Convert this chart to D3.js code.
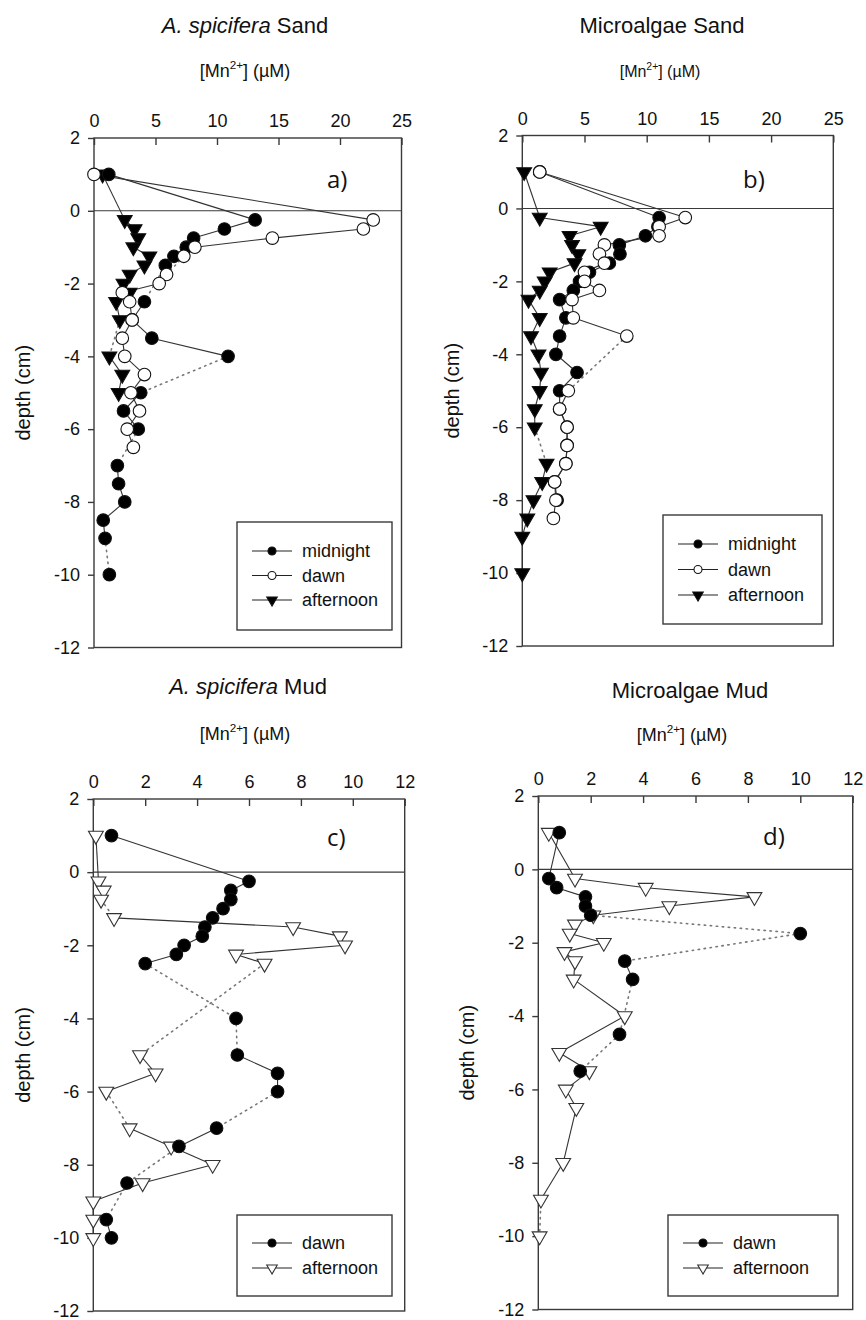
<!DOCTYPE html>
<html><head><meta charset="utf-8">
<script src="https://cdn.jsdelivr.net/npm/d3@7"></script>
<style>body{margin:0;background:#fff}svg{display:block}</style>
</head><body>
<svg id="c" width="866" height="1320"></svg>
<script>
// ---------- tick labels ----------
const depthTicks = [2, 0, -2, -4, -6, -8, -10, -12];
const sandTicks = [0, 5, 10, 15, 20, 25];
const mudTicks = [0, 2, 4, 6, 8, 10, 12];

// ---------- a) A. spicifera Sand ----------
const aMidnightDepth = [1, -0.25, -0.5, -0.75, -1, -1.25, -1.5, -2.5, -3, -3.5, -4, -5, -5.5, -6, -7, -7.5, -8, -8.5, -9, -10];
const aMidnightMn    = [1.2, 13.1, 10.6, 8.1, 7.5, 6.5, 5.8, 4.1, 3.1, 4.7, 10.9, 3.8, 2.4, 3.6, 1.9, 2.0, 2.5, 0.75, 0.9, 1.25];
const aMidnightGaps  = [-1.5, -4, -6, -9];
const aDawnDepth = [1, -0.25, -0.5, -0.75, -1, -1.25, -1.75, -2, -2.25, -2.5, -3, -3.5, -4, -4.5, -5, -5.5, -6, -6.5];
const aDawnMn    = [0, 22.7, 21.9, 14.5, 8.2, 7.3, 5.9, 5.3, 2.3, 2.9, 3.1, 2.3, 2.5, 4.1, 3.0, 3.7, 2.7, 3.2];
const aDawnGaps  = [-1.25];
const aAfternoonDepth = [1, -0.25, -0.5, -0.75, -1, -1.25, -1.5, -1.75, -2, -2.25, -2.5, -3, -4, -4.5, -5];
const aAfternoonMn    = [0.7, 2.5, 3.3, 3.6, 3.2, 4.5, 4.1, 2.9, 2.4, 2.9, 1.8, 2.1, 1.25, 2.3, 2.0];
const aAfternoonGaps  = [-3];

// ---------- b) Microalgae Sand ----------
const bMidnightDepth = [1, -0.25, -0.5, -0.75, -1, -1.25, -1.5, -1.75, -2, -2.25, -2.5, -3, -3.5, -4, -4.5, -5, -5.5, -6, -6.5, -7, -7.5, -8];
const bMidnightMn    = [1.4, 11.0, 10.9, 9.9, 7.8, 7.85, 7.0, 5.4, 4.6, 4.1, 3.0, 3.5, 3.0, 2.7, 4.4, 3.0, 3.0, 3.6, 3.6, 3.5, 2.6, 2.8];
const bMidnightGaps  = [];
const bDawnDepth = [1, -0.25, -0.5, -0.75, -1, -1.25, -1.5, -1.75, -2, -2.25, -2.5, -3, -3.5, -5, -5.5, -6, -6.5, -7, -7.5, -8, -8.5];
const bDawnMn    = [1.4, 13.1, 11.0, 11.0, 6.6, 6.2, 6.6, 5.0, 5.0, 6.2, 4.0, 4.1, 8.4, 3.7, 3.0, 3.6, 3.6, 3.5, 2.6, 2.7, 2.5];
const bDawnGaps  = [-3.5];
const bAfternoonDepth = [1, -0.25, -0.5, -0.75, -1, -1.25, -1.5, -1.75, -2, -2.25, -2.5, -3, -3.5, -4, -4.5, -5, -5.5, -6, -7, -7.5, -8, -8.5, -9, -10];
const bAfternoonMn    = [0.15, 1.4, 6.3, 3.8, 4.0, 4.5, 4.2, 2.2, 1.8, 1.4, 0.5, 1.4, 0.7, 1.3, 1.5, 1.4, 1.0, 1.0, 1.95, 1.6, 0.9, 0.4, 0.0, 0.0];
const bAfternoonGaps  = [-6];

// ---------- c) A. spicifera Mud ----------
const cDawnDepth = [1, -0.25, -0.5, -0.75, -1, -1.25, -1.5, -1.75, -2, -2.25, -2.5, -4, -5, -5.5, -6, -7, -7.5, -8.5, -9.5, -10];
const cDawnMn    = [0.7, 6.0, 5.3, 5.3, 5.0, 4.6, 4.3, 4.2, 3.5, 3.2, 2.0, 5.5, 5.55, 7.1, 7.1, 4.75, 3.3, 1.3, 0.5, 0.7];
const cDawnGaps  = [-2.5, -4, -6, -7.5, -8.5];
const cAfternoonDepth = [1, -0.25, -0.5, -0.75, -1.25, -1.5, -1.75, -2, -2.25, -2.5, -5, -5.5, -6, -7, -7.5, -8, -8.5, -9, -9.5, -10];
const cAfternoonMn    = [0.1, 0.2, 0.4, 0.3, 0.8, 7.7, 9.5, 9.7, 5.5, 6.6, 1.8, 2.4, 0.5, 1.4, 3.0, 4.6, 1.9, 0.0, 0.0, 0.0];
const cAfternoonGaps  = [-0.75, -2.5, -6];

// ---------- d) Microalgae Mud ----------
const dDawnDepth = [1, -0.25, -0.5, -0.75, -1, -1.25, -1.75, -2.5, -3, -4.5, -5.5];
const dDawnMn    = [0.8, 0.4, 0.7, 1.8, 1.8, 2.0, 10.0, 3.3, 3.6, 3.1, 1.6];
const dDawnGaps  = [-1.25, -1.75, -3, -4.5];
const dAfternoonDepth = [1, -0.25, -0.5, -0.75, -1, -1.25, -1.5, -1.75, -2, -2.25, -2.5, -3, -4, -5, -5.5, -6, -6.5, -8, -9, -10];
const dAfternoonMn    = [0.4, 1.4, 4.1, 8.25, 5.0, 2.1, 1.4, 1.2, 2.5, 1.0, 1.4, 1.35, 3.3, 0.8, 1.95, 1.05, 1.45, 0.95, 0.1, 0.05];
const dAfternoonGaps  = [-9];

// ---------- drawing ----------
const FONT = "'Liberation Sans', Arial, sans-serif";
const svg = d3.select('#c');
const INK = '#3a3a3a';

const triDown = d3.symbol().type(d3.symbolTriangle);

function drawMarker(sel, s, size) {
  if (s.shape === 'circle') {
    sel.append('circle').attr('r', size === 'small' ? 4 : 6.3)
      .attr('fill', s.filled ? '#000' : '#fff')
      .attr('stroke', '#111').attr('stroke-width', 1.1);
  } else {
    sel.append('path').attr('d', triDown.size(size === 'small' ? 48 : 95)())
      .attr('transform', 'rotate(180)')
      .attr('fill', s.filled ? '#000' : '#fff')
      .attr('stroke', s.filled ? '#111' : '#333').attr('stroke-width', 1.1);
  }
}

function drawPanel(p) {
  const g = svg.append('g');
  const x = d3.scaleLinear().domain([0, p.xTicks[p.xTicks.length - 1]]).range([p.left, p.right]);
  const y = d3.scaleLinear().domain([2, -12]).range([p.top, p.bottom]);

  // titles
  const t = g.append('text').attr('x', p.titleX).attr('y', p.titleY).attr('text-anchor', 'middle')
    .attr('font-family', FONT).attr('font-size', 22).attr('fill', '#111');
  p.title.forEach(part => t.append('tspan').attr('font-style', part.italic ? 'italic' : 'normal').text(part.text));
  const m = g.append('text').attr('x', p.unitX).attr('y', p.unitY).attr('text-anchor', 'middle')
    .attr('font-family', FONT).attr('font-size', p.unitSize).attr('fill', '#111');
  m.append('tspan').text('[Mn');
  m.append('tspan').attr('font-size', p.unitSize * 0.65).attr('dy', -p.unitSize * 0.42).text('2+');
  m.append('tspan').attr('dy', p.unitSize * 0.42).text('] (\u00B5M)');

  // frame
  g.append('rect').attr('x', p.left).attr('y', p.top)
    .attr('width', p.right - p.left).attr('height', p.bottom - p.top)
    .attr('fill', 'none').attr('stroke', INK).attr('stroke-width', 1.4);
  g.append('line').attr('x1', p.left).attr('x2', p.right).attr('y1', y(0)).attr('y2', y(0))
    .attr('stroke', INK).attr('stroke-width', 1.1);

  const xa = g.append('g').attr('transform', `translate(0,${p.top})`)
    .call(d3.axisTop(x).tickValues(p.xTicks).tickSize(-7).tickPadding(11).tickFormat(d => String(d)));
  const ya = g.append('g').attr('transform', `translate(${p.left},0)`)
    .call(d3.axisLeft(y).tickValues(depthTicks).tickSize(6).tickPadding(8).tickFormat(d => String(d)));
  [xa, ya].forEach(a => {
    a.select('.domain').remove();
    a.selectAll('line').attr('stroke', INK).attr('stroke-width', 1.4);
    a.selectAll('text').attr('font-family', FONT).attr('font-size', 18).attr('fill', '#111');
  });

  // y label
  g.append('text').attr('transform', `translate(${p.yLabelX},${(p.top + p.bottom) / 2}) rotate(-90)`)
    .attr('text-anchor', 'middle').attr('dy', '0.35em')
    .attr('font-family', FONT).attr('font-size', 20).attr('fill', '#111').text('depth (cm)');

  // panel letter
  g.append('text').attr('x', p.letterX).attr('y', p.letterY)
    .attr('font-family', "'Open Sans', 'DejaVu Sans', sans-serif").attr('font-size', 24).attr('fill', '#111').text(p.letter);

  // series lines
  p.series.forEach(s => {
    const pts = s.depth.map((d, i) => ({ d, v: s.mn[i] }));
    for (let i = 0; i < pts.length - 1; i++) {
      const gap = s.gaps.includes(pts[i].d);
      g.append('line')
        .attr('x1', x(pts[i].v)).attr('y1', y(pts[i].d))
        .attr('x2', x(pts[i + 1].v)).attr('y2', y(pts[i + 1].d))
        .attr('stroke', gap ? '#777' : '#333')
        .attr('stroke-width', gap ? 1.6 : 1.1)
        .attr('stroke-dasharray', gap ? '1.4 4.6' : null)
        .attr('stroke-linecap', gap ? 'round' : 'butt');
    }
  });
  // markers
  p.drawOrder.forEach(idx => {
    const s = p.series[idx];
    s.depth.forEach((d, i) => {
      const mk = g.append('g').attr('transform', `translate(${x(s.mn[i])},${y(d)})`);
      drawMarker(mk, s);
    });
  });

  // legend
  const L = p.legend;
  g.append('rect').attr('x', L.x).attr('y', L.y).attr('width', L.w).attr('height', L.h)
    .attr('fill', '#fff').attr('stroke', INK).attr('stroke-width', 1.4);
  p.series.forEach((s, i) => {
    const ry = L.y + L.first + i * L.step;
    g.append('line').attr('x1', L.x + 15).attr('x2', L.x + 55).attr('y1', ry).attr('y2', ry)
      .attr('stroke', '#222').attr('stroke-width', 1.2);
    drawMarker(g.append('g').attr('transform', `translate(${L.x + 35},${ry})`), s, 'small');
    g.append('text').attr('x', L.x + 65).attr('y', ry).attr('dy', '0.35em')
      .attr('font-family', FONT).attr('font-size', 18).attr('fill', '#111').text(s.name);
  });
}

const midnightStyle = { shape: 'circle', filled: true };
const dawnOpen = { shape: 'circle', filled: false };
const aftFilled = { shape: 'tri', filled: true };
const aftOpen = { shape: 'tri', filled: false };

drawPanel({
  left: 94, right: 401.5, top: 138, bottom: 647.5, xTicks: sandTicks,
  title: [{ text: 'A. spicifera', italic: true }, { text: ' Sand' }], titleX: 245, titleY: 33,
  unitX: 245, unitY: 77, unitSize: 18, yLabelX: 23, letter: 'a)', letterX: 327, letterY: 188,
  series: [
    Object.assign({ name: 'midnight', depth: aMidnightDepth, mn: aMidnightMn, gaps: aMidnightGaps }, midnightStyle),
    Object.assign({ name: 'dawn', depth: aDawnDepth, mn: aDawnMn, gaps: aDawnGaps }, dawnOpen),
    Object.assign({ name: 'afternoon', depth: aAfternoonDepth, mn: aAfternoonMn, gaps: aAfternoonGaps }, aftFilled)
  ],
  drawOrder: [2, 0, 1],
  legend: { x: 237, y: 522, w: 155, h: 108, first: 29, step: 24.5 }
});

drawPanel({
  left: 522.3, right: 833.3, top: 135.5, bottom: 646, xTicks: sandTicks,
  title: [{ text: 'Microalgae Sand' }], titleX: 662, titleY: 33,
  unitX: 660, unitY: 77, unitSize: 16, yLabelX: 452, letter: 'b)', letterX: 743, letterY: 188,
  series: [
    Object.assign({ name: 'midnight', depth: bMidnightDepth, mn: bMidnightMn, gaps: bMidnightGaps }, midnightStyle),
    Object.assign({ name: 'dawn', depth: bDawnDepth, mn: bDawnMn, gaps: bDawnGaps }, dawnOpen),
    Object.assign({ name: 'afternoon', depth: bAfternoonDepth, mn: bAfternoonMn, gaps: bAfternoonGaps }, aftFilled)
  ],
  drawOrder: [2, 0, 1],
  legend: { x: 663, y: 515, w: 159, h: 109, first: 29, step: 25.5 }
});

drawPanel({
  left: 93.3, right: 404.7, top: 799, bottom: 1311, xTicks: mudTicks,
  title: [{ text: 'A. spicifera', italic: true }, { text: ' Mud' }], titleX: 248, titleY: 694,
  unitX: 245, unitY: 740, unitSize: 18, yLabelX: 23, letter: 'c)', letterX: 327, letterY: 846,
  series: [
    Object.assign({ name: 'dawn', depth: cDawnDepth, mn: cDawnMn, gaps: cDawnGaps }, midnightStyle),
    Object.assign({ name: 'afternoon', depth: cAfternoonDepth, mn: cAfternoonMn, gaps: cAfternoonGaps }, aftOpen)
  ],
  drawOrder: [1, 0],
  legend: { x: 237, y: 1215, w: 155, h: 81, first: 28, step: 25 }
});

drawPanel({
  left: 538.3, right: 852.7, top: 796, bottom: 1309.5, xTicks: mudTicks,
  title: [{ text: 'Microalgae Mud' }], titleX: 690, titleY: 698,
  unitX: 682, unitY: 741, unitSize: 18, yLabelX: 467, letter: 'd)', letterX: 763, letterY: 845,
  series: [
    Object.assign({ name: 'dawn', depth: dDawnDepth, mn: dDawnMn, gaps: dDawnGaps }, midnightStyle),
    Object.assign({ name: 'afternoon', depth: dAfternoonDepth, mn: dAfternoonMn, gaps: dAfternoonGaps }, aftOpen)
  ],
  drawOrder: [1, 0],
  legend: { x: 668, y: 1215, w: 170, h: 81, first: 28, step: 25 }
});
</script>
</body></html>
